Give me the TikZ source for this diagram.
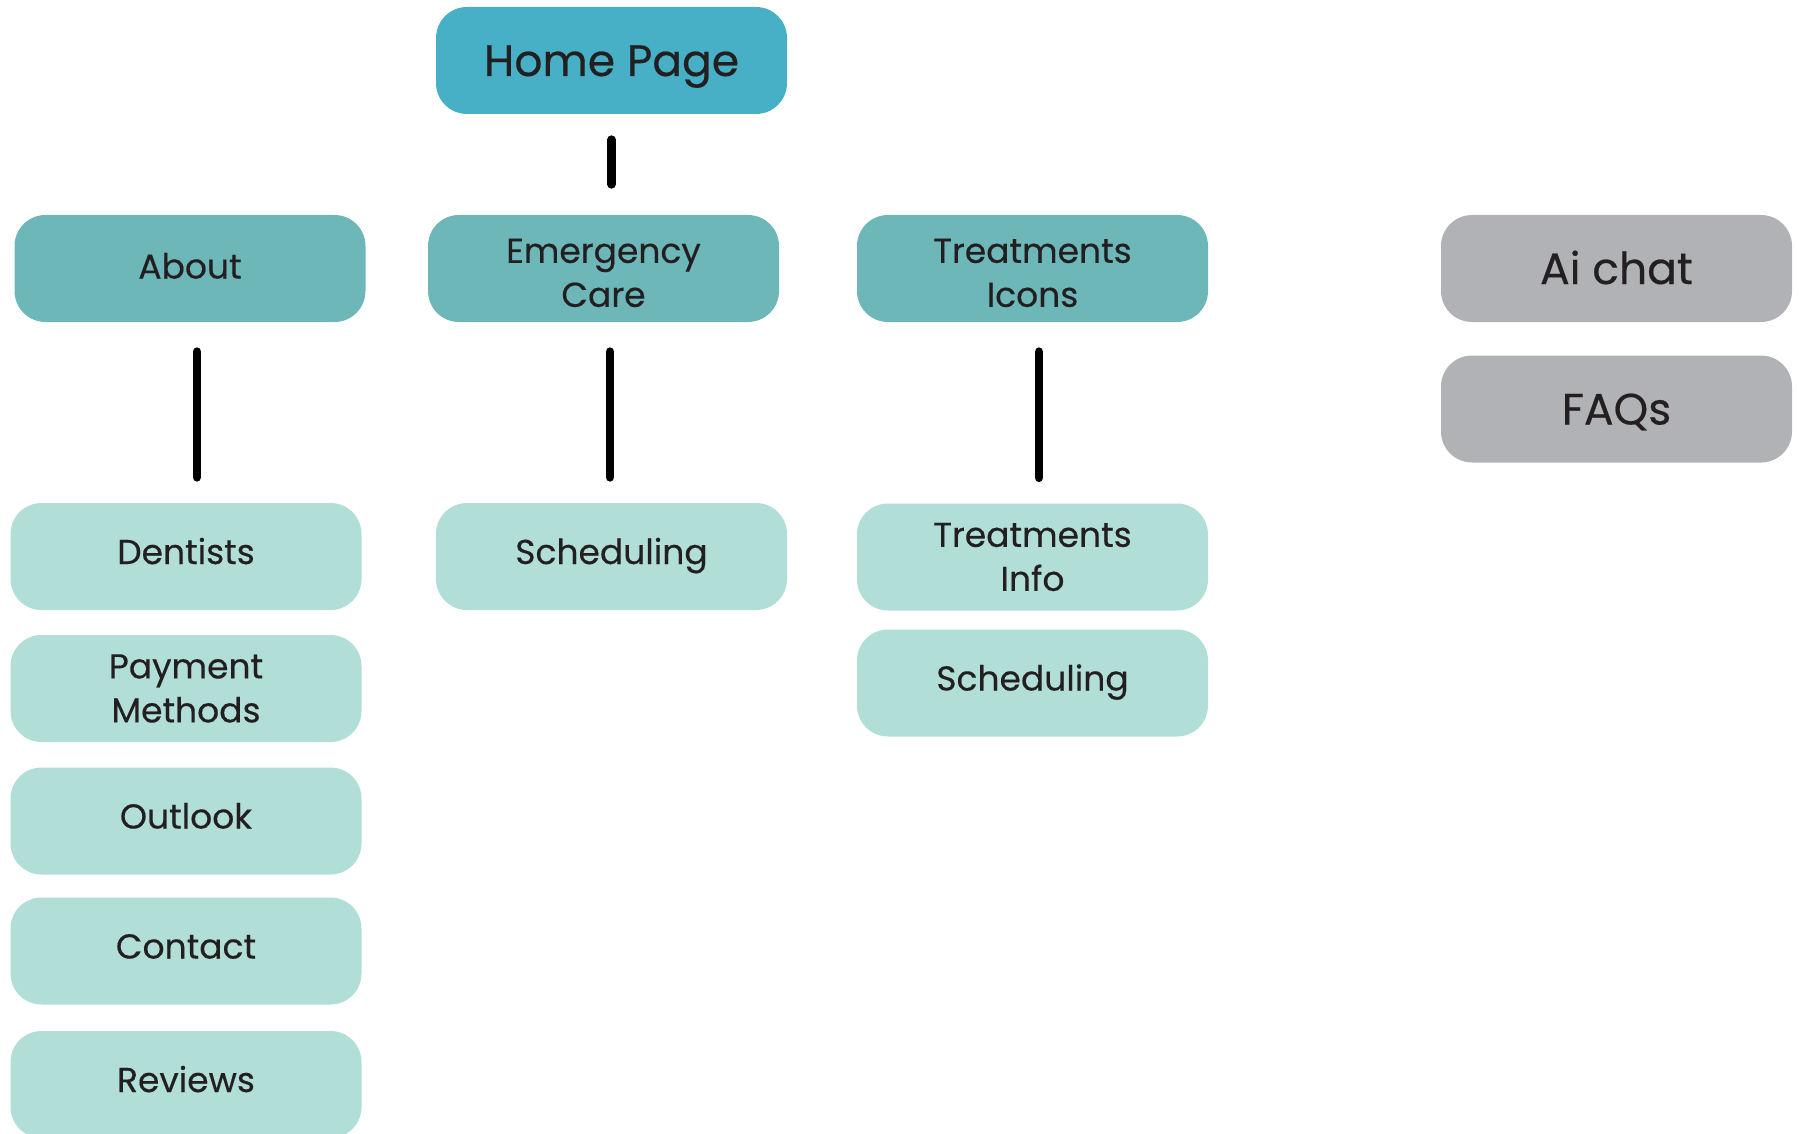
\documentclass[tikz,border=0pt]{standalone}
\usepackage{fontspec}
\setmainfont{Poppins}[FakeBold=0.35]
\usetikzlibrary{positioning}
\definecolor{homeblue}{HTML}{47B0C6}
\definecolor{sectionteal}{HTML}{6DB7B8}
\definecolor{pagemint}{HTML}{B1DED7}
\definecolor{extragrey}{HTML}{B1B2B5}
\definecolor{inkdark}{HTML}{231F20}
\newcommand{\topstrut}{\rule{0pt}{33pt}}
\tikzset{
  box/.style={rectangle, rounded corners=31pt, minimum width=351pt, minimum height=107pt,
    inner sep=0pt, text=inkdark, align=center},
  smalltext/.style={font=\fontsize{34.5}{44}\selectfont},
  bigtext/.style={font=\fontsize{44}{52}\selectfont, text height=31pt, text depth=0pt},
  oneline/.style={text height=25pt, text depth=10pt},
  headline/.style={text height=25pt, text depth=5pt},
  homebox/.style={box, fill=homeblue, bigtext},
  sectionbox/.style={box, fill=sectionteal, smalltext},
  pagebox/.style={box, fill=pagemint, smalltext},
  extrabox/.style={box, fill=extragrey, bigtext},
  conn/.style={line width=8.7pt, line cap=round, draw=black}
}
\begin{document}
\begin{tikzpicture}[x=1pt, y=-1pt]
\useasboundingbox (0,0) rectangle (1799,1134);
\clip (0,0) rectangle (1799,1134);

% top level
\node[homebox] (home) at (611.5,60.5) {Home Page};

% sections
\node[sectionbox, headline] (about) at (190,268.5) {About};
\node[sectionbox] (emerg) at (603.5,268.5) {\topstrut Emergency\\Care};
\node[sectionbox] (treat) at (1032.5,268.5) {\topstrut Treatments\\Icons};

% standalone features
\node[extrabox] (aichat) at (1616.5,268.5) {Ai chat};
\node[extrabox] (faqs) at (1616.5,409) {FAQs};

% pages under About
\node[pagebox, oneline] (dent) at (186,556.5) {Dentists};
\node[pagebox] (pay) at (186,688.5) {Payment\\Methods};
\node[pagebox, oneline] (outl) at (186,821) {Outlook};
\node[pagebox, oneline] (cont) at (186,951) {Contact};
\node[pagebox, oneline] (rev) at (186,1084.5) {Reviews};

% pages under Emergency Care
\node[pagebox, oneline] (schedA) at (611.5,556.5) {Scheduling};

% pages under Treatments
\node[pagebox] (tinfo) at (1032.5,557) {Treatments\\Info};
\node[pagebox, oneline] (schedB) at (1032.5,683) {Scheduling};

% connectors
\draw[conn, shorten <=25.5pt, shorten >=30.5pt] (home.south) -- (home.south |- emerg.north);
\draw[conn, shorten <=29.5pt, shorten >=25.5pt] ([xshift=7pt]about.south) -- ([xshift=7pt]about.south |- dent.north);
\draw[conn, shorten <=29.5pt, shorten >=25.5pt] ([xshift=6.5pt]emerg.south) -- ([xshift=6.5pt]emerg.south |- schedA.north);
\draw[conn, shorten <=29.5pt, shorten >=25.5pt] ([xshift=6.5pt]treat.south) -- ([xshift=6.5pt]treat.south |- tinfo.north);
\end{tikzpicture}
\end{document}
